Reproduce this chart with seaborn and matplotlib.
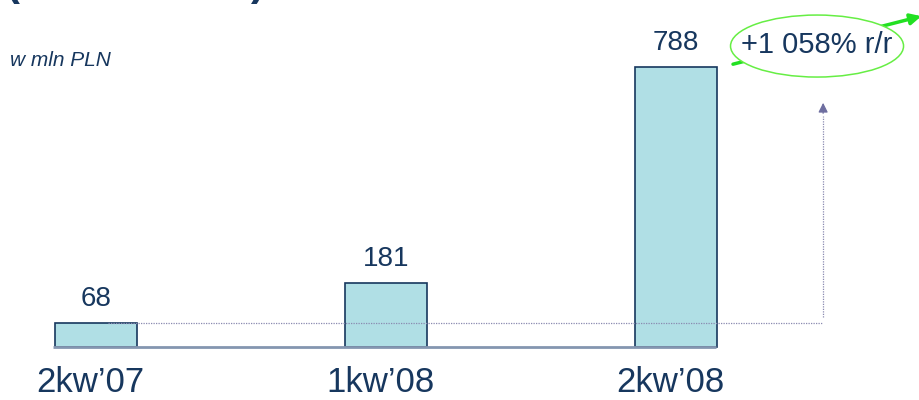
import matplotlib.pyplot as plt
import seaborn as sns
import pandas as pd
from matplotlib.patches import Ellipse

# dane z wykresu
kwartaly = ["2kw\u201907", "1kw\u201908", "2kw\u201908"]
wartosci = [68, 181, 788]
opis_zmiany = "+1 058% r/r"
jednostka = "w mln PLN"

granat = "#17375E"
df = pd.DataFrame({"kwartal": kwartaly, "wartosc": wartosci})

sns.set_style("white")
plt.rcParams["font.family"] = ["Liberation Sans", "DejaVu Sans"]

fig = plt.figure(figsize=(9.2, 4), dpi=100)
ax = fig.add_axes([0, 0, 1, 1])

sns.barplot(data=df, x="kwartal", y="wartosc", order=kwartaly, width=0.28,
            color="#B0DFE5", saturation=1, edgecolor=granat, linewidth=1.2,
            ax=ax, zorder=2)

# skala: 290 px na kategorie, 0.3553 px na jednostke
ax.set_xlim(-0.331, 2.841)
ax.set_ylim(-149.2, 976.6)
ax.axis("off")

# linia bazowa
ax.plot([-0.148, 0.138 + 2], [0, 0], color="#8496B0", lw=2, zorder=3,
        solid_capstyle="butt")

# etykiety wartosci
for i, v in enumerate(wartosci):
    ax.text(i, v + 30, str(v), ha="center", va="bottom", fontsize=20, color=granat)

# etykiety kwartalow
for i, k in enumerate(kwartaly):
    ax.text(i - 0.02, -101, k, ha="center", va="center", fontsize=25, color=granat)

# linia przerywana i strzalka w gore
x_konc = 2.507
ax.plot([0.04, x_konc], [wartosci[0], wartosci[0]], color="#8A8AB0", lw=0.9,
        ls=(0, (1, 1)), zorder=4)
ax.plot([x_konc, x_konc], [wartosci[0] + 15, 650], color="#8A8AB0", lw=0.9,
        ls=(0, (1, 1)), zorder=4)
ax.annotate("", xy=(x_konc, 695), xytext=(x_konc, 650),
            arrowprops=dict(arrowstyle="-|>", color="#6E6EA0", lw=0.9,
                            mutation_scale=14))

# zielona strzalka i elipsa
ax.annotate("", xy=(2.855, 933), xytext=(2.187, 794), annotation_clip=False,
            arrowprops=dict(arrowstyle="-|>", color="#22E022", lw=2.5,
                            mutation_scale=16))
elipsa = Ellipse((2.486, 847), width=173 / 290, height=62 / 0.3553,
                 facecolor="white", edgecolor="#66EE44", lw=1.1, zorder=6)
ax.add_patch(elipsa)
ax.text(2.486, 850, opis_zmiany, ha="center", va="center", fontsize=21,
        color=granat, zorder=7)

# jednostka
fig.text(10 / 920, 1 - 60 / 400, jednostka, fontsize=15, style="italic",
         color=granat, va="center", ha="left")

# uciety tytul (nawiasy)
fig.text(6 / 920, 1 - 4 / 400, "(", fontsize=30, fontweight="bold",
         color=granat, va="bottom", ha="left")
fig.text(251 / 920, 1 - 4 / 400, ")", fontsize=30, fontweight="bold",
         color=granat, va="bottom", ha="left")

fig.savefig("out.png", dpi=100)
plt.close()
